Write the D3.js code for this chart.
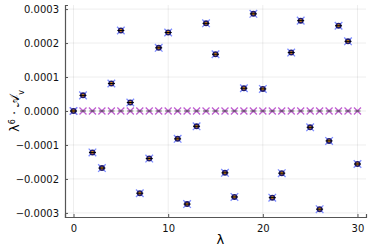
<!DOCTYPE html>
<html>
<head>
<meta charset="utf-8">
<script src="https://cdn.jsdelivr.net/npm/d3@7"></script>
<style>
  body { margin: 0; background: #fff; }
  text { font-family: "DejaVu Sans", sans-serif; }
</style>
</head>
<body>
<div id="chart"></div>
<script>
const lambdas = d3.range(0, 31);
const coeffs = [
  0, 0.000046, -0.000122, -0.000168, 0.000081, 0.000237, 0.000025, -0.000242,
  -0.000140, 0.000186, 0.000231, -0.000082, -0.000274, -0.000045, 0.000258,
  0.000167, -0.000182, -0.000253, 0.000067, 0.000286, 0.000065, -0.000255,
  -0.000183, 0.000172, 0.000266, -0.000048, -0.000289, -0.000088, 0.000251,
  0.000205, -0.000156
];
const residuals = lambdas.map(() => 0);
const yTicks = [-0.0003, -0.0002, -0.0001, 0, 0.0001, 0.0002, 0.0003];
const xTicks = [0, 10, 20, 30];

const width = 374;
const height = 249;
const margin = { left: 65, right: 8, top: 5, bottom: 32 };

const svg = d3.select('#chart')
              .append('svg')
              .attr('width', width)
              .attr('height', height);

const x = d3.scaleLinear()
            .domain([-0.9, 30.9])
            .range([margin.left, width - margin.right]);
const y = d3.scaleLinear()
            .domain([-0.000312, 0.000312])
            .range([height - margin.bottom, margin.top]);

// grid
svg.append('g')
   .selectAll('line')
   .data(xTicks)
   .enter()
   .append('line')
   .attr('x1', (d) => x(d)).attr('x2', (d) => x(d))
   .attr('y1', margin.top).attr('y2', height - margin.bottom)
   .attr('stroke', '#000').attr('stroke-opacity', 0.07);
svg.append('g')
   .selectAll('line')
   .data(yTicks)
   .enter()
   .append('line')
   .attr('x1', margin.left).attr('x2', width - margin.right)
   .attr('y1', (d) => y(d)).attr('y2', (d) => y(d))
   .attr('stroke', '#000').attr('stroke-opacity', 0.07);

// axes
const fmt = (d) => d === 0 ? '0.0000' : (d < 0 ? '\u2212' : '') + Math.abs(d).toFixed(4);
const yAxis = svg.append('g')
   .attr('transform', 'translate(' + margin.left + ',0)')
   .call(d3.axisLeft(y).tickValues(yTicks).tickFormat(fmt).tickSize(-3).tickPadding(6));
const xAxis = svg.append('g')
   .attr('transform', 'translate(0,' + (height - margin.bottom) + ')')
   .call(d3.axisBottom(x).tickValues(xTicks).tickSize(-3).tickPadding(6));

[xAxis, yAxis].forEach((ax) => {
  ax.select('.domain').attr('stroke', '#555').attr('stroke-width', 1.2);
  ax.selectAll('.tick line').attr('stroke', '#555');
  ax.selectAll('text').style('font-size', '10px').attr('fill', '#111');
});
xAxis.selectAll('text').attr('dy', '0.9em');

// near-zero series
const drawX = (g, s, color) => {
  g.append('path')
   .attr('d', 'M' + (-s) + ',' + (-s) + 'L' + s + ',' + s + 'M' + (-s) + ',' + s + 'L' + s + ',' + (-s))
   .attr('stroke', color).attr('stroke-width', 1.3).attr('fill', 'none');
};

const zeroG = svg.append('g')
   .selectAll('g')
   .data(lambdas)
   .enter()
   .append('g')
   .attr('transform', (d, i) => 'translate(' + x(d) + ',' + y(residuals[i]) + ')');
drawX(zeroG, 3.5, '#c060d0');
zeroG.append('circle').attr('r', 1.5).attr('fill', '#8a5a9a').attr('fill-opacity', 0.5);
zeroG.append('line')
   .attr('x1', -3).attr('x2', 3)
   .attr('stroke', '#333').attr('stroke-width', 0.8);

// main series
const ptG = svg.append('g')
   .selectAll('g')
   .data(lambdas)
   .enter()
   .append('g')
   .attr('transform', (d, i) => 'translate(' + x(d) + ',' + y(coeffs[i]) + ')');
drawX(ptG, 3.8, '#7d8cff');
ptG.append('circle').attr('r', 3).attr('fill', '#1e1a6e');
ptG.append('circle').attr('r', 1.4).attr('fill', '#e8900a');
ptG.append('line')
   .attr('x1', -3.5).attr('x2', 3.5)
   .attr('stroke', '#000').attr('stroke-width', 1);

// labels
svg.append('text')
   .attr('x', x(15.5))
   .attr('y', 244)
   .attr('text-anchor', 'middle')
   .style('font-size', '13px')
   .text('\u03bb');

const yl = svg.append('text')
   .attr('transform', 'translate(19,' + y(0) + ') rotate(-90)')
   .attr('text-anchor', 'middle')
   .style('font-size', '13px');
yl.append('tspan').text('\u03bb');
yl.append('tspan').attr('baseline-shift', 'super').style('font-size', '8px').text('6');
yl.append('tspan').text(' \u00b7 \ud835\udc9c');
yl.append('tspan').attr('baseline-shift', 'sub').style('font-size', '8px').text('v');
</script>
</body>
</html>
